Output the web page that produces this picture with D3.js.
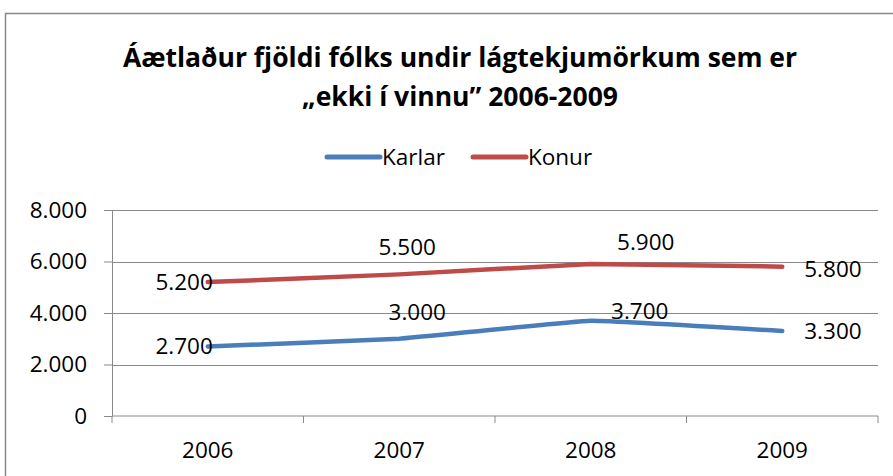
<!DOCTYPE html>
<html>
<head>
<meta charset="utf-8">
<script src="https://cdn.jsdelivr.net/npm/d3@7"></script>
<style>
  body { margin: 0; background: #fff; }
  svg { display: block; }
</style>
</head>
<body>
<div id="chart"></div>
<script>
// data
const years = ["2006", "2007", "2008", "2009"];
const karlar = [2700, 3000, 3700, 3300];
const konur = [5200, 5500, 5900, 5800];
const yTicks = [0, 2000, 4000, 6000, 8000];
const seriesNames = ["Karlar", "Konur"];
const titleLines = ["Áætlaður fjöldi fólks undir lágtekjumörkum sem er", "„ekki í vinnu” 2006-2009"];

let width = 893;
let height = 476;
const font = "'Open Sans', sans-serif";
const colors = ["#4a7ebb", "#be4b48"];
const fs = 22.5;

// hand placed label offsets (dx, dy, anchor), like the original
const labelPos = [
    [[5, 0, "end"], [18, -27, "middle"], [49, -10, "middle"], [22, 0, "start"]],
    [[5, 0, "end"], [8, -27, "middle"], [55, -22, "middle"], [22, 2, "start"]]
];

const is = d3.formatLocale({decimal: ",", thousands: ".", grouping: [3], currency: ["", " kr."]});
const fmt = is.format(",");

const margin = {top: 210, right: 15, bottom: 60, left: 112};

const svg = d3.select("#chart")
    .append("svg")
    .attr("width", width)
    .attr("height", height);

// outer chart border (runs off the right and bottom edge)
svg.append("rect")
    .attr("x", 5.5)
    .attr("y", 13.5)
    .attr("width", 950)
    .attr("height", 500)
    .attr("fill", "none")
    .attr("stroke", "#898989")
    .attr("stroke-width", 1.5);

const x = d3.scaleBand()
    .domain(years)
    .range([margin.left, width - margin.right])
    .padding(0);

const y = d3.scaleLinear()
    .domain([0, 8000])
    .range([height - margin.bottom, margin.top]);

// title
svg.append("g")
    .attr("font-family", font)
    .attr("font-weight", "bold")
    .attr("font-size", 26.5)
    .attr("text-anchor", "middle")
    .selectAll("text")
    .data(titleLines)
    .enter().append("text")
    .attr("x", 460)
    .attr("y", (d, i) => 67 + i * 39)
    .text(d => d);

// legend
const legend = svg.append("g")
    .attr("font-family", font)
    .attr("font-size", fs)
    .selectAll("g")
    .data(seriesNames)
    .enter().append("g")
    .attr("transform", (d, i) => `translate(${327 + i * 146},157)`);

legend.append("line")
    .attr("x1", 0).attr("x2", 53)
    .attr("stroke", (d, i) => colors[i])
    .attr("stroke-width", 5)
    .attr("stroke-linecap", "round");

legend.append("text")
    .attr("x", 55)
    .attr("dy", "0.35em")
    .text(d => d);

// y axis with gridlines
const yAxis = svg.append("g")
    .attr("transform", `translate(${margin.left},0)`)
    .call(d3.axisLeft(y).tickValues(yTicks).tickFormat(fmt)
        .tickSize(8).tickSizeOuter(0).tickPadding(17))
    .attr("font-family", font)
    .attr("font-size", fs);
yAxis.select(".domain").attr("stroke", "#898989");
yAxis.selectAll(".tick line").attr("stroke", "#898989");
yAxis.selectAll(".tick text").attr("fill", "#000");

svg.append("g")
    .selectAll("line")
    .data(yTicks.filter(d => d > 0))
    .enter().append("line")
    .attr("x1", margin.left)
    .attr("x2", width - margin.right)
    .attr("y1", d => Math.round(y(d)) + 0.5)
    .attr("y2", d => Math.round(y(d)) + 0.5)
    .attr("stroke", "#898989");

// x axis, ticks between categories
const xAxis = svg.append("g")
    .attr("transform", `translate(0,${height - margin.bottom})`)
    .attr("font-family", font)
    .attr("font-size", fs);

xAxis.append("line")
    .attr("x1", margin.left)
    .attr("x2", width - margin.right)
    .attr("stroke", "#898989");

xAxis.selectAll("line.tk")
    .data(years.map(d => x(d)).concat([x(years[years.length - 1]) + x.bandwidth()]))
    .enter().append("line")
    .attr("class", "tk")
    .attr("x1", d => d).attr("x2", d => d)
    .attr("y1", 0).attr("y2", 7)
    .attr("stroke", "#898989");

xAxis.selectAll("text")
    .data(years)
    .enter().append("text")
    .attr("x", d => x(d) + x.bandwidth() / 2)
    .attr("y", 42)
    .attr("text-anchor", "middle")
    .text(d => d);

// lines
const cx = d => x(d) + x.bandwidth() / 2;
const line = d3.line()
    .x((d, i) => cx(years[i]))
    .y(d => y(d))
    .curve(d3.curveCardinal.tension(0.75));

const series = [karlar, konur];

svg.append("g")
    .attr("fill", "none")
    .attr("stroke-width", 4.5)
    .attr("stroke-linecap", "round")
    .attr("stroke-linejoin", "round")
    .selectAll("path")
    .data(series)
    .enter().append("path")
    .attr("stroke", (d, i) => colors[i])
    .attr("d", line);

// data labels
series.forEach((vals, s) => {
    svg.append("g")
        .attr("font-family", font)
        .attr("font-size", fs)
        .selectAll("text")
        .data(vals)
        .enter().append("text")
        .attr("x", (d, i) => cx(years[i]) + labelPos[s][i][0])
        .attr("y", (d, i) => y(d) + labelPos[s][i][1])
        .attr("dy", "0.35em")
        .attr("text-anchor", (d, i) => labelPos[s][i][2])
        .text(d => fmt(d));
});
</script>
</body>
</html>
